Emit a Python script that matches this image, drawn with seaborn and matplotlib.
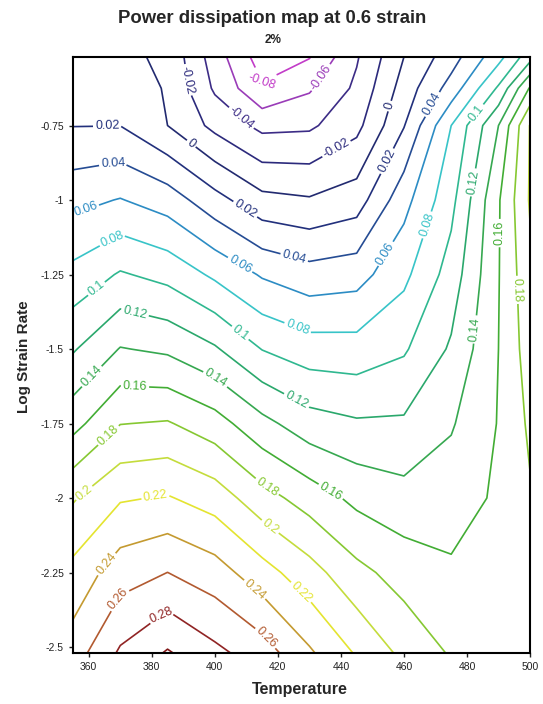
import numpy as np
import matplotlib
matplotlib.use("Agg")
import matplotlib.pyplot as plt
import seaborn as sns

# temperature columns and log strain rate rows of the map
temperature = [355, 370, 385, 400, 415, 430, 445, 460, 475, 490, 500]
log_strain_rate = [-2.52, -2.25, -2.0, -1.75, -1.5, -1.25, -1.0, -0.75, -0.625, -0.52]

# efficiency of power dissipation, one list per strain rate
eta_252 = [0.250, 0.283, 0.302, 0.285, 0.270, 0.243, 0.218, 0.195, 0.178, 0.172, 0.173]
eta_225 = [0.226, 0.251, 0.2601, 0.2491, 0.228, 0.208, 0.1857, 0.1717, 0.163, 0.168, 0.175]
eta_200 = [0.198, 0.218, 0.2216, 0.2108, 0.188, 0.1711, 0.1549, 0.1472, 0.1508, 0.163, 0.178]
eta_175 = [0.153, 0.1795, 0.1817, 0.1686, 0.146, 0.1286, 0.1225, 0.1229, 0.138, 0.161, 0.1835]
eta_150 = [0.118, 0.141, 0.1365, 0.1224, 0.0994, 0.0892, 0.0882, 0.0975, 0.1228, 0.160, 0.190]
eta_125 = [0.086, 0.102, 0.0938, 0.0763, 0.0579, 0.0481, 0.0519, 0.0751, 0.1086, 0.159, 0.195]
eta_100 = [0.054, 0.061, 0.0506, 0.0274, 0.006, 0.002, 0.0103, 0.0529, 0.094, 0.158, 0.202]
eta_075 = [0.0195, 0.0198, 0.0, -0.0255, -0.0453, -0.0434, -0.0258, 0.019, 0.080, 0.140, 0.201]
eta_0625 = [0.013, 0.013, -0.002, -0.043, -0.0775, -0.0625, -0.036, 0.0085, 0.048, 0.103, 0.162]
eta_052 = [0.008, 0.005, -0.004, -0.050, -0.090, -0.081, -0.042, 0.0, 0.031, 0.073, 0.112]

levels = [-0.08, -0.06, -0.04, -0.02, 0.0, 0.02, 0.04, 0.06, 0.08, 0.1,
          0.12, 0.14, 0.16, 0.18, 0.2, 0.22, 0.24, 0.26, 0.28, 0.3]
level_colors = ["#c23cc8", "#9a3cb8", "#3c2c86", "#2c2a7c", "#222a70", "#22307c",
                "#254c94", "#2c8cc4", "#38c4c8", "#2fb890", "#2aa86c", "#36a850",
                "#42ad34", "#86c832", "#c4dc3c", "#e4e430", "#c49a30", "#b25a30",
                "#902424", "#801818"]

x_ticks = [360, 380, 400, 420, 440, 460, 480, 500]
y_ticks = [-2.5, -2.25, -2, -1.75, -1.5, -1.25, -1, -0.75]

# where the contour labels sit (temperature, log strain rate)
label_spots = [
    (415.3, -0.61), (433.4, -0.587), (407, -0.741), (391.5, -0.597), (438.8, -0.832),
    (391.5, -0.825), (456.5, -0.688), (365.8, -0.721), (408.9, -1.043), (457, -0.882),
    (367.7, -0.876), (424.8, -1.208), (470.5, -0.688), (358.5, -1.017), (407, -1.235),
    (456.5, -1.195), (366.7, -1.117), (426, -1.436), (469.2, -1.09), (361, -1.278),
    (407, -1.46), (483.2, -0.708), (374.7, -1.376), (426, -1.671), (483.2, -0.943),
    (359.8, -1.58), (400.4, -1.597), (484.1, -1.436), (374.7, -1.614), (436.5, -1.983),
    (491.4, -1.111), (365.2, -1.778), (416.5, -1.963), (494.6, -1.302), (360.4, -2.007),
    (417.5, -2.097), (381, -1.983), (427, -2.32), (365.2, -2.218), (413.4, -2.298),
    (368.3, -2.332), (416.5, -2.466), (382, -2.376),
]

sns.set_theme(style="ticks")
plt.rcParams["font.family"] = ["Liberation Sans", "DejaVu Sans"]

grid = np.array([eta_252, eta_225, eta_200, eta_175, eta_150,
                 eta_125, eta_100, eta_075, eta_0625, eta_052])

fig = plt.figure(figsize=(5.43, 7.04), dpi=100)
ax = fig.add_axes([73 / 543, 51 / 704, 457 / 543, 596 / 704])

cs = ax.contour(temperature, log_strain_rate, grid, levels=levels,
                colors=level_colors, linewidths=1.2)


def fmt(v):
    s = f"{round(v, 2):g}"
    return "0" if s == "-0" else s


ax.clabel(cs, fmt=fmt, fontsize=9, inline=True, inline_spacing=2, manual=label_spots)

ax.set_xlim(355, 500)
ax.set_ylim(-2.52, -0.52)
ax.set_xticks(x_ticks)
ax.set_xticklabels([str(t) for t in x_ticks])
ax.set_yticks(y_ticks)
ax.set_yticklabels([f"{t:g}" for t in y_ticks])
ax.tick_params(labelsize=7.5, length=3, width=1, colors="#222222")
for s in ax.spines.values():
    s.set_linewidth(1.5)
    s.set_color("black")

fig.text(0.502, 0.974, "Power dissipation map at 0.6 strain", ha="center", va="center",
         fontsize=13.3, fontweight="bold")
fig.text(0.502, 0.943, "2%", ha="center", va="center", fontsize=8.5, fontweight="bold")
fig.text(0.553, 0.02, "Temperature", ha="center", va="center", fontsize=11.5, fontweight="bold")
fig.text(0.045, 0.494, "Log Strain Rate", ha="center", va="center", rotation=90,
         fontsize=11, fontweight="bold")

fig.savefig("out.png", dpi=100)
